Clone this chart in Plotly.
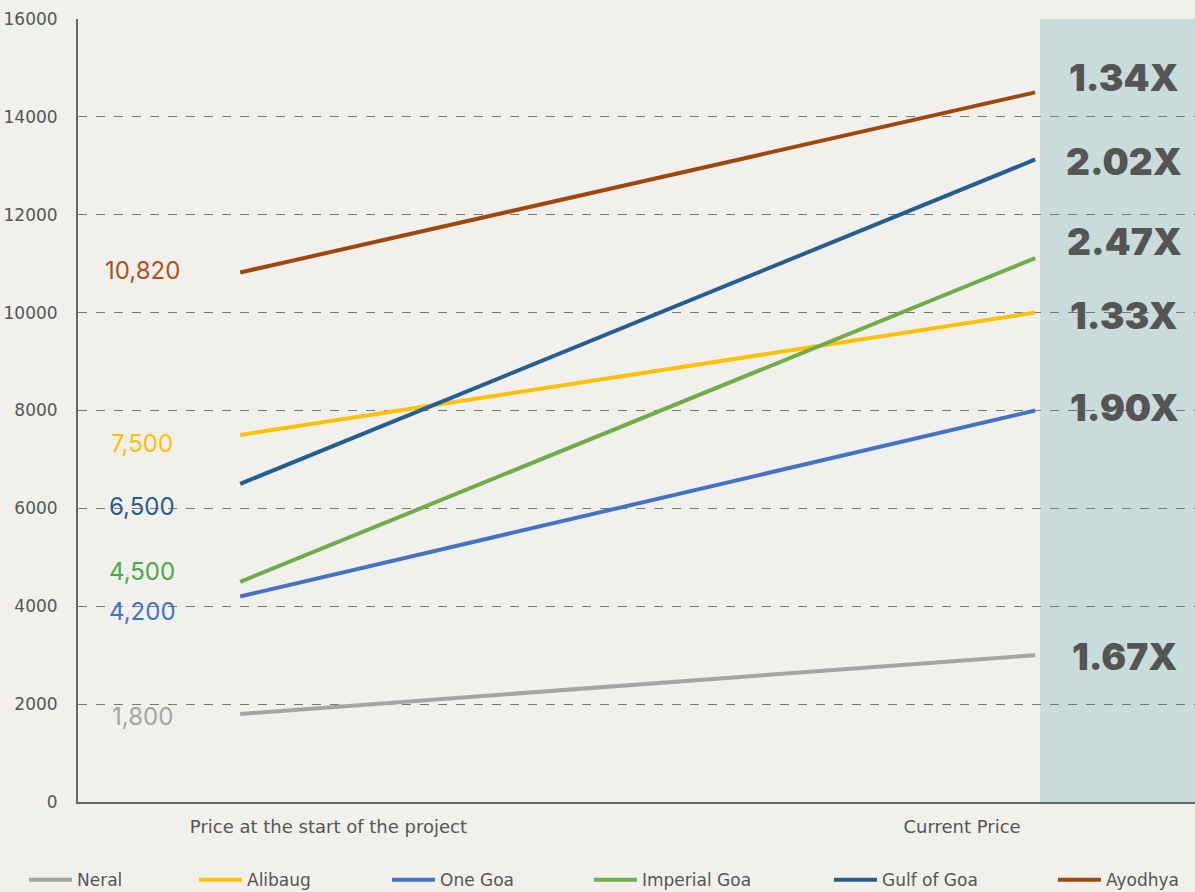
import plotly.graph_objects as go

categories = ["Price at the start of the project", "Current Price"]
series_names = ["Neral", "Alibaug", "One Goa", "Imperial Goa", "Gulf of Goa", "Ayodhya"]
start_prices = [1800, 7500, 4200, 4500, 6500, 10820]
current_prices = [3000, 10000, 8000, 11115, 13130, 14500]
multipliers = ["1.67X", "1.33X", "1.90X", "2.47X", "2.02X", "1.34X"]
colors = ["#a5a5a5", "#ffc000", "#4472c4", "#70ad47", "#255e91", "#9e480e"]
label_colors = ["#a5a5a5", "#ffc000", "#4472c4", "#4aa84a", "#255e91", "#b0501c"]
# label vertical offsets (pixels)
start_label_shift = [-3, -9, -15, 10, -23, 2]
mult_label_shift = [-1, -3, 3, 17, -2, 15]
# legend text left positions (pixels)
legend_text_px = [77, 247, 440, 642, 882, 1106]

FONT = "DejaVu Sans"
BIG = "Inter"
PLOT_L, PLOT_W = 78, 1117

fig = go.Figure()
x_pos = [0, 1]
for i, name in enumerate(series_names):
    lg = "legend" if i == 0 else f"legend{i+1}"
    fig.add_trace(go.Scatter(
        x=x_pos, y=[start_prices[i], current_prices[i]], mode="lines", name=name,
        line=dict(color=colors[i], width=4), hoverinfo="skip", legend=lg))
    fig.add_annotation(x=0, y=start_prices[i], xref="x", yref="y",
                       text=f"{start_prices[i]:,}", showarrow=False, xshift=-98,
                       xanchor="center", yshift=start_label_shift[i],
                       font=dict(family=BIG, size=24, color=label_colors[i]))
    fig.add_annotation(x=(1124 - PLOT_L) / PLOT_W, y=current_prices[i], xref="paper", yref="y",
                       text=multipliers[i], showarrow=False, xanchor="center",
                       yshift=mult_label_shift[i],
                       font=dict(family=BIG, size=37, color="#555555", weight=900))

fig.add_shape(type="rect", xref="x", yref="y", x0=1.006, x1=1.21, y0=0, y1=16000,
              fillcolor="#c9dbdb", line=dict(width=0), layer="below")

legends = {}
for i in range(len(series_names)):
    key = "legend" if i == 0 else f"legend{i+1}"
    legends[key] = dict(orientation="h", x=(legend_text_px[i] - 53 - PLOT_L) / PLOT_W,
                        xanchor="left", y=-0.077, yanchor="top", itemwidth=43,
                        font=dict(family=FONT, size=17, color="#555555"),
                        bgcolor="rgba(0,0,0,0)")

fig.update_layout(
    width=1195, height=892,
    margin=dict(l=78, r=0, t=19, b=90, autoexpand=False),
    paper_bgcolor="#f1f0ec", plot_bgcolor="#f1f0ec",
    font=dict(family=FONT, color="#555555"),
    showlegend=True,
    **legends,
)
fig.update_xaxes(range=[-0.204, 1.201], tickvals=[0.111, 0.908], ticktext=categories,
                 showgrid=False, zeroline=False, showline=True, linecolor="#666666", linewidth=2,
                 tickfont=dict(family=FONT, size=18, color="#555555"), ticks="", ticklabelstandoff=7)
fig.update_yaxes(range=[0, 16000], dtick=2000, tickformat="d", showgrid=True, gridcolor="#777777",
                 griddash="dash", gridwidth=1, zeroline=False, showline=True,
                 linecolor="#666666", linewidth=2, ticks="", ticklabelstandoff=15,
                 tickfont=dict(family=FONT, size=17, color="#555555"))

fig.write_html("out.html")
